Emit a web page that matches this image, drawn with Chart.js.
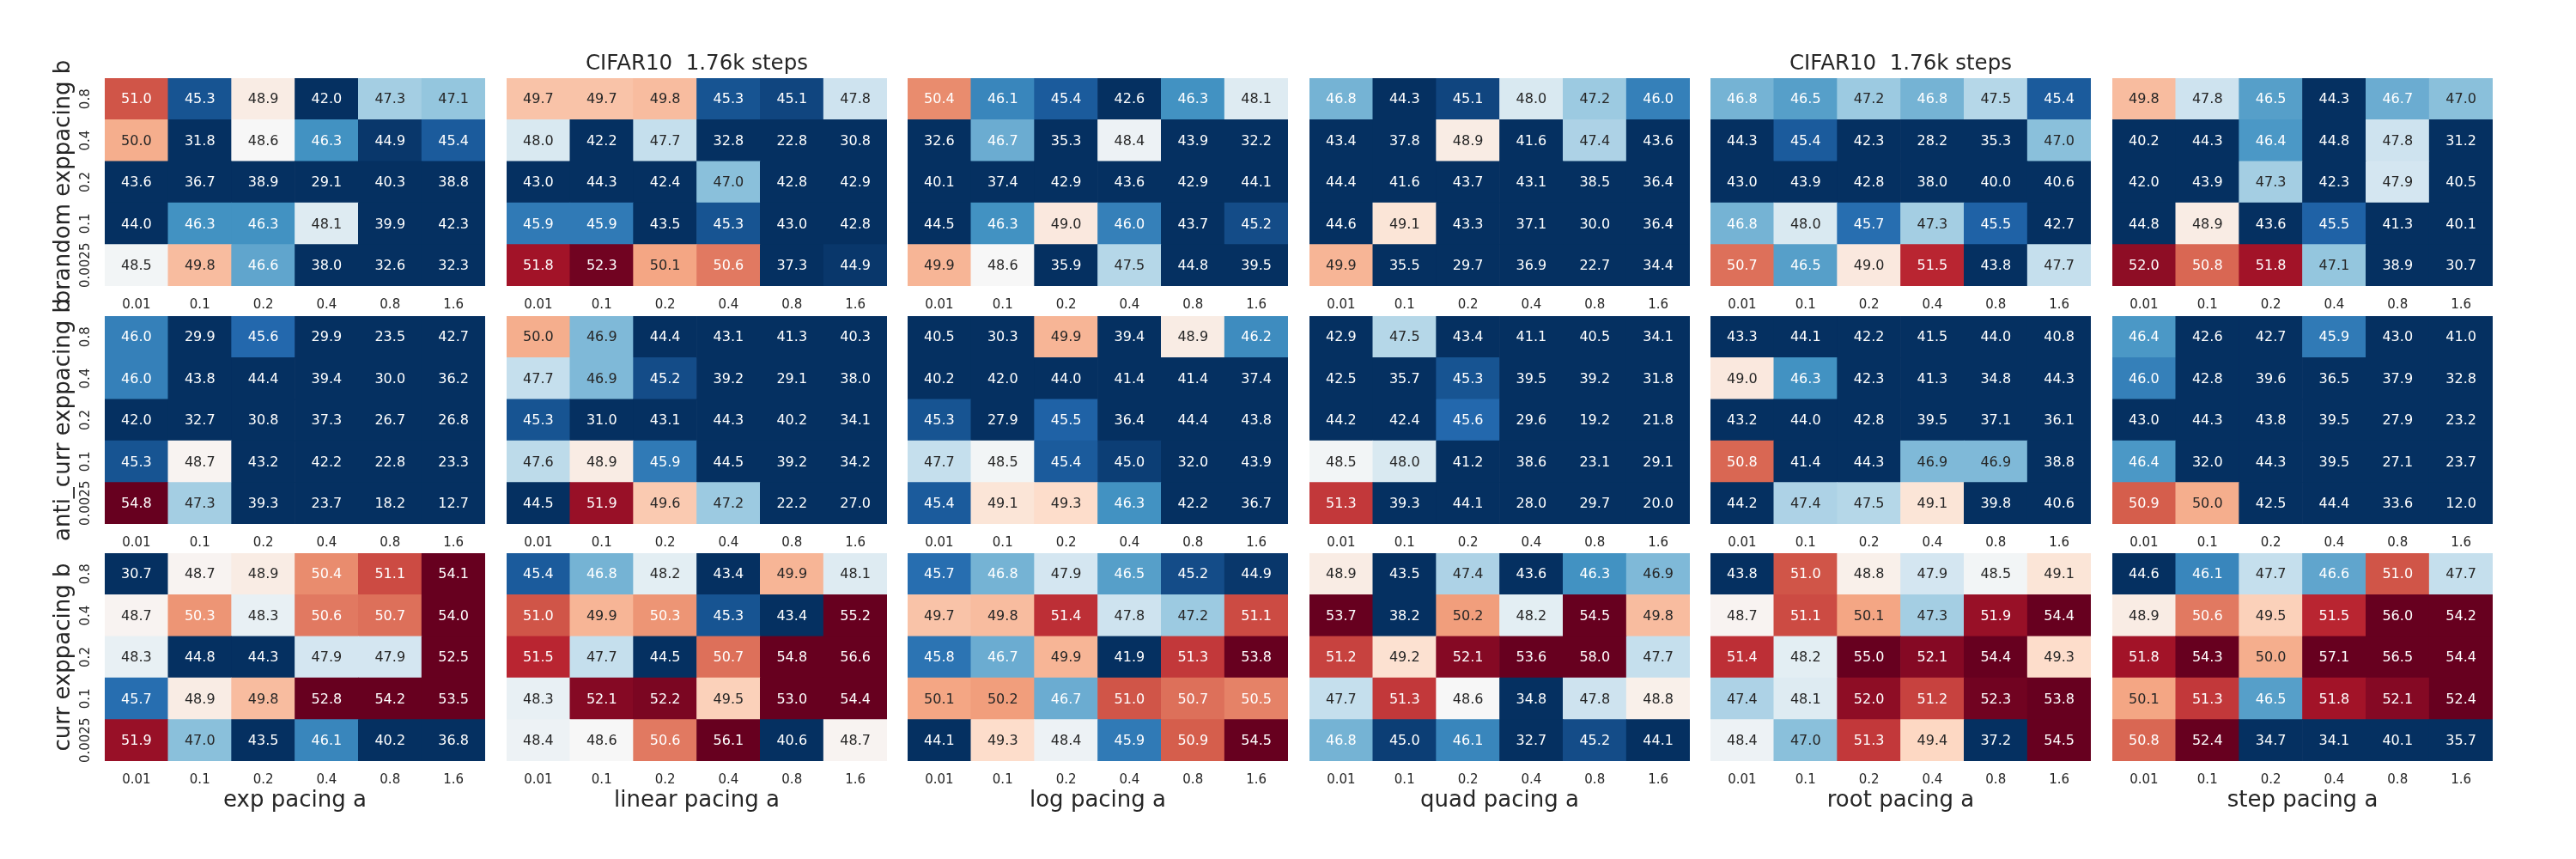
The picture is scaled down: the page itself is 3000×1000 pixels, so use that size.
<!DOCTYPE html>
<html lang="en">
<head>
    <meta charset="UTF-8">
    <title>CIFAR10 1.76k steps - pacing heatmaps</title>
    <script src="https://cdn.jsdelivr.net/npm/chart.js@4"></script>
    <style>
        body {
            margin: 0;
            background-color: #ffffff;
        }
        #page {
            position: relative;
            width: 3000px;
            height: 1000px;
            overflow: hidden;
        }
        #page canvas {
            position: absolute;
        }
    </style>
</head>
<body>
    <div id="page"></div>

    <script>
        // tick labels
        const paceA = ['0.01', '0.1', '0.2', '0.4', '0.8', '1.6'];
        const paceB = ['0.8', '0.4', '0.2', '0.1', '0.0025'];
        const pacings = ['exp', 'linear', 'log', 'quad', 'root', 'step'];
        const orderings = ['brandom', 'anti_curr', 'curr'];
        const title = 'CIFAR10  1.76k steps';

        // rows follow paceB (0.8 at top), columns follow paceA
        const brandom_exp = [
            [51.0, 45.3, 48.9, 42.0, 47.3, 47.1],
            [50.0, 31.8, 48.6, 46.3, 44.9, 45.4],
            [43.6, 36.7, 38.9, 29.1, 40.3, 38.8],
            [44.0, 46.3, 46.3, 48.1, 39.9, 42.3],
            [48.5, 49.8, 46.6, 38.0, 32.6, 32.3]
        ];
        const brandom_linear = [
            [49.7, 49.7, 49.8, 45.3, 45.1, 47.8],
            [48.0, 42.2, 47.7, 32.8, 22.8, 30.8],
            [43.0, 44.3, 42.4, 47.0, 42.8, 42.9],
            [45.9, 45.9, 43.5, 45.3, 43.0, 42.8],
            [51.8, 52.3, 50.1, 50.6, 37.3, 44.9]
        ];
        const brandom_log = [
            [50.4, 46.1, 45.4, 42.6, 46.3, 48.1],
            [32.6, 46.7, 35.3, 48.4, 43.9, 32.2],
            [40.1, 37.4, 42.9, 43.6, 42.9, 44.1],
            [44.5, 46.3, 49.0, 46.0, 43.7, 45.2],
            [49.9, 48.6, 35.9, 47.5, 44.8, 39.5]
        ];
        const brandom_quad = [
            [46.8, 44.3, 45.1, 48.0, 47.2, 46.0],
            [43.4, 37.8, 48.9, 41.6, 47.4, 43.6],
            [44.4, 41.6, 43.7, 43.1, 38.5, 36.4],
            [44.6, 49.1, 43.3, 37.1, 30.0, 36.4],
            [49.9, 35.5, 29.7, 36.9, 22.7, 34.4]
        ];
        const brandom_root = [
            [46.8, 46.5, 47.2, 46.8, 47.5, 45.4],
            [44.3, 45.4, 42.3, 28.2, 35.3, 47.0],
            [43.0, 43.9, 42.8, 38.0, 40.0, 40.6],
            [46.8, 48.0, 45.7, 47.3, 45.5, 42.7],
            [50.7, 46.5, 49.0, 51.5, 43.8, 47.7]
        ];
        const brandom_step = [
            [49.8, 47.8, 46.5, 44.3, 46.7, 47.0],
            [40.2, 44.3, 46.4, 44.8, 47.8, 31.2],
            [42.0, 43.9, 47.3, 42.3, 47.9, 40.5],
            [44.8, 48.9, 43.6, 45.5, 41.3, 40.1],
            [52.0, 50.8, 51.8, 47.1, 38.9, 30.7]
        ];

        const anti_exp = [
            [46.0, 29.9, 45.6, 29.9, 23.5, 42.7],
            [46.0, 43.8, 44.4, 39.4, 30.0, 36.2],
            [42.0, 32.7, 30.8, 37.3, 26.7, 26.8],
            [45.3, 48.7, 43.2, 42.2, 22.8, 23.3],
            [54.8, 47.3, 39.3, 23.7, 18.2, 12.7]
        ];
        const anti_linear = [
            [50.0, 46.9, 44.4, 43.1, 41.3, 40.3],
            [47.7, 46.9, 45.2, 39.2, 29.1, 38.0],
            [45.3, 31.0, 43.1, 44.3, 40.2, 34.1],
            [47.6, 48.9, 45.9, 44.5, 39.2, 34.2],
            [44.5, 51.9, 49.6, 47.2, 22.2, 27.0]
        ];
        const anti_log = [
            [40.5, 30.3, 49.9, 39.4, 48.9, 46.2],
            [40.2, 42.0, 44.0, 41.4, 41.4, 37.4],
            [45.3, 27.9, 45.5, 36.4, 44.4, 43.8],
            [47.7, 48.5, 45.4, 45.0, 32.0, 43.9],
            [45.4, 49.1, 49.3, 46.3, 42.2, 36.7]
        ];
        const anti_quad = [
            [42.9, 47.5, 43.4, 41.1, 40.5, 34.1],
            [42.5, 35.7, 45.3, 39.5, 39.2, 31.8],
            [44.2, 42.4, 45.6, 29.6, 19.2, 21.8],
            [48.5, 48.0, 41.2, 38.6, 23.1, 29.1],
            [51.3, 39.3, 44.1, 28.0, 29.7, 20.0]
        ];
        const anti_root = [
            [43.3, 44.1, 42.2, 41.5, 44.0, 40.8],
            [49.0, 46.3, 42.3, 41.3, 34.8, 44.3],
            [43.2, 44.0, 42.8, 39.5, 37.1, 36.1],
            [50.8, 41.4, 44.3, 46.9, 46.9, 38.8],
            [44.2, 47.4, 47.5, 49.1, 39.8, 40.6]
        ];
        const anti_step = [
            [46.4, 42.6, 42.7, 45.9, 43.0, 41.0],
            [46.0, 42.8, 39.6, 36.5, 37.9, 32.8],
            [43.0, 44.3, 43.8, 39.5, 27.9, 23.2],
            [46.4, 32.0, 44.3, 39.5, 27.1, 23.7],
            [50.9, 50.0, 42.5, 44.4, 33.6, 12.0]
        ];

        const curr_exp = [
            [30.7, 48.7, 48.9, 50.4, 51.1, 54.1],
            [48.7, 50.3, 48.3, 50.6, 50.7, 54.0],
            [48.3, 44.8, 44.3, 47.9, 47.9, 52.5],
            [45.7, 48.9, 49.8, 52.8, 54.2, 53.5],
            [51.9, 47.0, 43.5, 46.1, 40.2, 36.8]
        ];
        const curr_linear = [
            [45.4, 46.8, 48.2, 43.4, 49.9, 48.1],
            [51.0, 49.9, 50.3, 45.3, 43.4, 55.2],
            [51.5, 47.7, 44.5, 50.7, 54.8, 56.6],
            [48.3, 52.1, 52.2, 49.5, 53.0, 54.4],
            [48.4, 48.6, 50.6, 56.1, 40.6, 48.7]
        ];
        const curr_log = [
            [45.7, 46.8, 47.9, 46.5, 45.2, 44.9],
            [49.7, 49.8, 51.4, 47.8, 47.2, 51.1],
            [45.8, 46.7, 49.9, 41.9, 51.3, 53.8],
            [50.1, 50.2, 46.7, 51.0, 50.7, 50.5],
            [44.1, 49.3, 48.4, 45.9, 50.9, 54.5]
        ];
        const curr_quad = [
            [48.9, 43.5, 47.4, 43.6, 46.3, 46.9],
            [53.7, 38.2, 50.2, 48.2, 54.5, 49.8],
            [51.2, 49.2, 52.1, 53.6, 58.0, 47.7],
            [47.7, 51.3, 48.6, 34.8, 47.8, 48.8],
            [46.8, 45.0, 46.1, 32.7, 45.2, 44.1]
        ];
        const curr_root = [
            [43.8, 51.0, 48.8, 47.9, 48.5, 49.1],
            [48.7, 51.1, 50.1, 47.3, 51.9, 54.4],
            [51.4, 48.2, 55.0, 52.1, 54.4, 49.3],
            [47.4, 48.1, 52.0, 51.2, 52.3, 53.8],
            [48.4, 47.0, 51.3, 49.4, 37.2, 54.5]
        ];
        const curr_step = [
            [44.6, 46.1, 47.7, 46.6, 51.0, 47.7],
            [48.9, 50.6, 49.5, 51.5, 56.0, 54.2],
            [51.8, 54.3, 50.0, 57.1, 56.5, 54.4],
            [50.1, 51.3, 46.5, 51.8, 52.1, 52.4],
            [50.8, 52.4, 34.7, 34.1, 40.1, 35.7]
        ];

        const grids = [
            [brandom_exp, brandom_linear, brandom_log, brandom_quad, brandom_root, brandom_step],
            [anti_exp, anti_linear, anti_log, anti_quad, anti_root, anti_step],
            [curr_exp, curr_linear, curr_log, curr_quad, curr_root, curr_step]
        ];

        // layout of the heatmap boxes on the page
        const LEFT = [122, 590, 1057, 1525, 1992, 2460];
        const TOP = [91, 368, 644];
        const CW = 443, CH = 242;
        const PAD = { left: 115, right: 20, top: 60, bottom: 80 };

        const FONT = '"DejaVu Sans", sans-serif';
        const TXT = '#262626';

        // RdBu_r
        const stops = ['#053061', '#2166ac', '#4393c3', '#92c5de', '#d1e5f0', '#f7f7f7',
                       '#fddbc7', '#f4a582', '#d6604d', '#b2182b', '#67001f'];
        const VMIN = 44.8, VMAX = 52.4;

        function hexRgb(h) {
            return [parseInt(h.slice(1, 3), 16), parseInt(h.slice(3, 5), 16), parseInt(h.slice(5, 7), 16)];
        }

        function cellRgb(v) {
            let t = (v - VMIN) / (VMAX - VMIN);
            t = Math.max(0, Math.min(1, t));
            const seg = t * 10;
            const i = Math.min(Math.floor(seg), 9);
            const f = seg - i;
            const a = hexRgb(stops[i]), b = hexRgb(stops[i + 1]);
            return a.map((c, k) => Math.round(c + (b[k] - c) * f));
        }

        function cellColor(v) {
            const c = cellRgb(v);
            return `rgb(${c[0]}, ${c[1]}, ${c[2]})`;
        }

        function textColor(v) {
            const lin = cellRgb(v).map(c => {
                c = c / 255;
                return c <= 0.03928 ? c / 12.92 : Math.pow((c + 0.055) / 1.055, 2.4);
            });
            const lum = 0.2126 * lin[0] + 0.7152 * lin[1] + 0.0722 * lin[2];
            return lum > 0.408 ? TXT : '#ffffff';
        }

        const labelPlugin = {
            id: 'heatLabels',
            afterDatasetsDraw(chart) {
                const ctx = chart.ctx;
                const area = chart.chartArea;
                const xs = chart.scales.x, ys = chart.scales.y;
                const { r, c } = chart.options.plugins.heatLabels;
                ctx.save();

                // cell values
                ctx.font = '16px ' + FONT;
                ctx.textAlign = 'center';
                ctx.textBaseline = 'middle';
                chart.data.datasets.forEach((ds, d) => {
                    chart.getDatasetMeta(d).data.forEach((el, i) => {
                        const v = ds.data[i].v;
                        const p = el.getProps(['x', 'y', 'base'], true);
                        ctx.fillStyle = textColor(v);
                        ctx.fillText(v.toFixed(1), p.x, (p.y + p.base) / 2 + 1);
                    });
                });

                // x tick labels
                ctx.fillStyle = TXT;
                ctx.font = '15px ' + FONT;
                ctx.textBaseline = 'alphabetic';
                paceA.forEach((a, i) => {
                    ctx.fillText(a, xs.getPixelForValue(i), area.bottom + 26);
                });

                // x axis title on the bottom row
                if (r === orderings.length - 1) {
                    ctx.font = '26px ' + FONT;
                    ctx.fillText(pacings[c] + ' pacing a', (area.left + area.right) / 2, area.bottom + 53);
                }

                // title above two of the top panels
                if (r === 0 && (c === 1 || c === 4)) {
                    ctx.font = '24.5px ' + FONT;
                    ctx.fillText(title, (area.left + area.right) / 2, area.top - 10);
                }

                // y tick labels and y title on the first column
                if (c === 0) {
                    ctx.textBaseline = 'middle';
                    ctx.font = '15px ' + FONT;
                    paceB.forEach((b, ri) => {
                        const y = ys.getPixelForValue(paceB.length - ri - 0.5);
                        ctx.save();
                        ctx.translate(area.left - 22, y);
                        ctx.rotate(-Math.PI / 2);
                        ctx.fillText(b, 0, 0);
                        ctx.restore();
                    });
                    ctx.save();
                    ctx.font = '26px ' + FONT;
                    ctx.translate(area.left - 48, (area.top + area.bottom) / 2);
                    ctx.rotate(-Math.PI / 2);
                    ctx.fillText(orderings[r] + ' exppacing b', 0, 0);
                    ctx.restore();
                }
                ctx.restore();
            }
        };

        const page = document.getElementById('page');

        orderings.forEach((ord, r) => {
            pacings.forEach((pace, c) => {
                const grid = grids[r][c];
                const canvas = document.createElement('canvas');
                canvas.width = CW + PAD.left + PAD.right;
                canvas.height = CH + PAD.top + PAD.bottom;
                canvas.style.left = (LEFT[c] - PAD.left) + 'px';
                canvas.style.top = (TOP[r] - PAD.top) + 'px';
                page.appendChild(canvas);

                // stacked from the bottom row (0.0025) up to the top row (0.8)
                const datasets = [];
                for (let ri = paceB.length - 1; ri >= 0; ri--) {
                    datasets.push({
                        label: paceB[ri],
                        data: grid[ri].map((v, ci) => ({ x: paceA[ci], y: 1, v: v })),
                        backgroundColor: grid[ri].map(cellColor),
                        borderWidth: 0,
                        barPercentage: 1,
                        categoryPercentage: 1
                    });
                }

                new Chart(canvas.getContext('2d'), {
                    type: 'bar',
                    data: { labels: paceA, datasets: datasets },
                    options: {
                        responsive: false,
                        devicePixelRatio: 1,
                        animation: false,
                        layout: { padding: PAD },
                        scales: {
                            x: { type: 'category', stacked: true, display: false, offset: true },
                            y: { type: 'linear', stacked: true, display: false, min: 0, max: paceB.length }
                        },
                        plugins: {
                            legend: { display: false },
                            tooltip: { enabled: false },
                            heatLabels: { r: r, c: c }
                        }
                    },
                    plugins: [labelPlugin]
                });
            });
        });
    </script>
</body>
</html>
